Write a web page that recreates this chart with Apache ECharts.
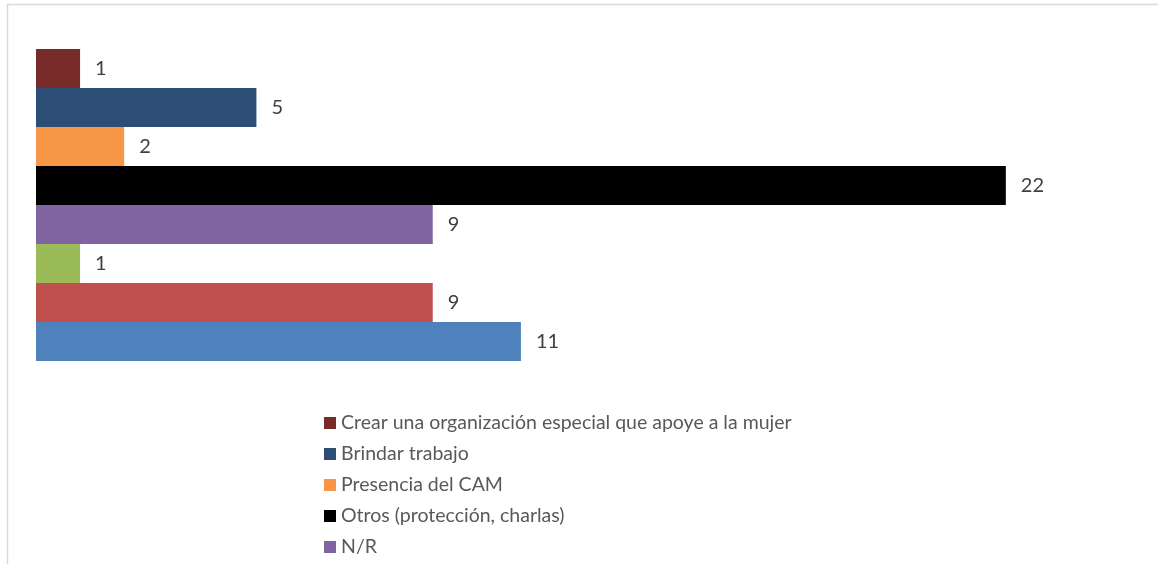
<!DOCTYPE html>
<html>
<head>
<meta charset="utf-8">
<script src="https://cdn.jsdelivr.net/npm/echarts@6/dist/echarts.min.js"></script>
<style>
html,body{margin:0;padding:0;background:#fff;}
#chart{width:1158px;height:564px;}
</style>
</head>
<body>
<div id="chart"></div>
<script>
const categories = [''];
const seriesNames = [
  'Crear una organización especial que apoye a la mujer',
  'Brindar trabajo',
  'Presencia del CAM',
  'Otros (protección, charlas)',
  'N/R',
  'Serie 6',
  'Serie 7',
  'Serie 8'
];
const values = [1, 5, 2, 22, 9, 1, 9, 11];
const legendNames = seriesNames.slice(0, 5);

const colors = ['#772C2A', '#2C4D75', '#F79646', '#000000', '#8064A2', '#9BBB59', '#C0504D', '#4F81BD'];

const chart = echarts.init(document.getElementById('chart'));
const series = seriesNames.map((name, i) => ({
  name: name,
  type: 'bar',
  data: [values[i]],
  barGap: '0%',
  barCategoryGap: '0%',
  itemStyle: { color: colors[i] },
  label: {
    show: true,
    position: 'right',
    distance: 15,
    color: '#404040',
    fontFamily: 'Lato',
    fontSize: 20
  },
  emphasis: { disabled: true }
}));

chart.setOption({
  animation: false,
  grid: { left: 36, top: 49, height: 312, width: 1058 },
  xAxis: { type: 'value', min: 0, max: 24, show: false },
  yAxis: { type: 'category', data: categories, show: false },
  legend: {
    data: legendNames,
    orient: 'vertical',
    left: 324,
    top: 412,
    padding: 0,
    height: 1000,
    itemWidth: 12,
    itemHeight: 12,
    itemGap: 9,
    icon: 'rect',
    textStyle: { fontFamily: 'Lato', fontSize: 19.5, color: '#595959', lineHeight: 22 }
  },
  graphic: [{
    type: 'rect',
    shape: { x: 7.5, y: 4.5, width: 1200, height: 600 },
    style: { fill: 'none', stroke: '#D9D9D9', lineWidth: 1.5 },
    silent: true
  }],
  series: series
});
</script>
</body>
</html>
